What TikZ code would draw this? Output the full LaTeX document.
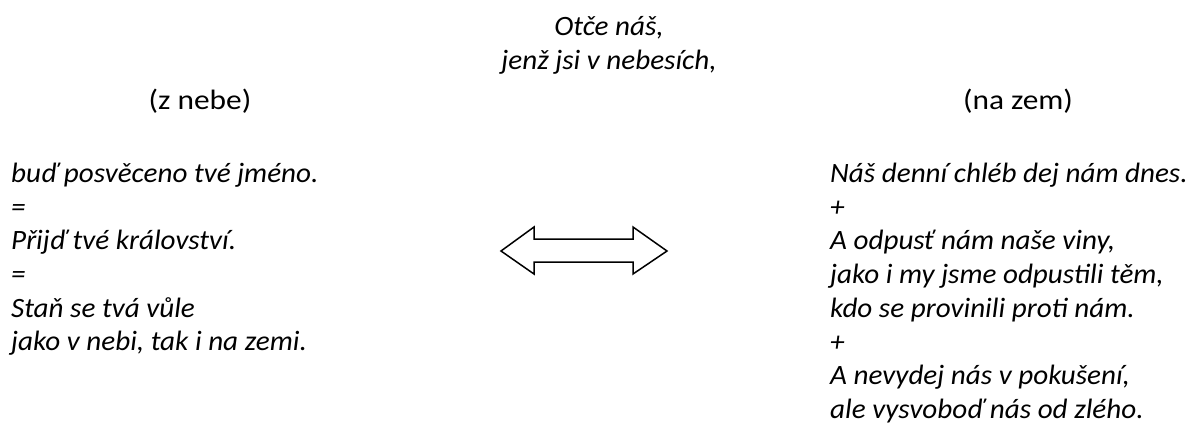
\documentclass[tikz,border=0pt]{standalone}
\usepackage{fontspec}
\setmainfont{Carlito}[FakeStretch=1.04]
\newfontfamily\headfont{Carlito}[FakeStretch=1.12]
\begin{document}
\begin{tikzpicture}[x=1pt,y=-1pt,
  txt/.style={inner sep=0pt, anchor=base west, font=\fontsize{28}{34}\selectfont\itshape},
  ctxt/.style={inner sep=0pt, anchor=base, font=\fontsize{28}{34}\selectfont\itshape},
  head/.style={inner sep=0pt, anchor=base, font=\headfont\fontsize{28}{34}\selectfont},
  dblarrow/.style={draw=black, line width=1.5pt, fill=white, line join=miter}]
\useasboundingbox (0,0) rectangle (1189,436);
% top
\node[ctxt] (t1) at (609,36) {Otče náš,};
\node[ctxt] (t2) at (609,70) {jenž jsi v nebesích,};
% headings
\node[head] (hl) at (200,110) {(z nebe)};
\node[head] (hr) at (1018,110) {(na zem)};
% left column
\node[txt] (l1) at (11,182) {buď posvěceno tvé jméno.};
\node[txt] (l2) at (11,216) {=};
\node[txt] (l3) at (11,249.5) {Přijď tvé království.};
\node[txt] (l4) at (11,283) {=};
\node[txt] (l5) at (11,317) {Staň se tvá vůle};
\node[txt] (l6) at (11,350.5) {jako v nebi, tak i na zemi.};
% right column
\node[txt] (r1) at (830,182) {Náš denní chléb dej nám dnes.};
\node[txt] (r2) at (830,216) {+};
\node[txt] (r3) at (830,249.5) {A odpusť nám naše viny,};
\node[txt] (r4) at (830,283) {jako i my jsme odpustili těm,};
\node[txt] (r5) at (830,317) {kdo se provinili proti nám.};
\node[txt] (r6) at (830,351) {+};
\node[txt] (r7) at (830,384.5) {A nevydej nás v pokušení,};
\node[txt] (r8) at (830,418) {ale vysvoboď nás od zlého.};
% double arrow
\draw[dblarrow] (501,251) -- (534,227) -- (534,239) -- (633,239) -- (633,227)
  -- (667,251) -- (633,274) -- (633,262) -- (534,262) -- (534,274) -- cycle;
\end{tikzpicture}
\end{document}
